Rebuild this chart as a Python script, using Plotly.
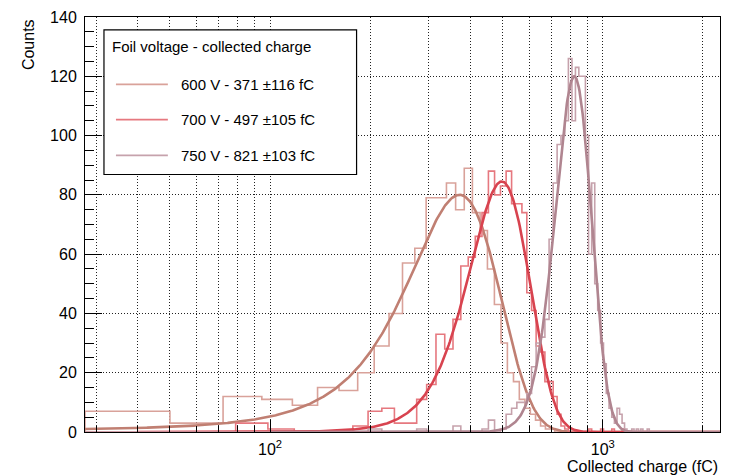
import numpy as np
import plotly.graph_objects as go

# ---------------- data ----------------
# histogram binning (fC): 600 V run and 700/750 V runs
bins_600 = (27.78, 2250.0, 100)
bins_700_750 = (19.7, 1989.7, 100)

counts_600 = [7, 3, 12, 11, 9, 15, 14, 20, 29, 40,
              57, 62, 79, 79, 84, 75, 89, 74, 68, 55,
              43, 30, 20, 17, 11, 8, 6, 4, 2, 1,
              1]
counts_700 = [0, 0, 0, 3, 1, 0, 0, 0, 2, 7,
              8, 3, 3, 11, 16, 33, 28, 38, 56, 59,
              66, 74, 88, 80, 83, 88, 77, 77, 74, 47,
              41, 29, 27, 17, 17, 12, 6, 2, 1, 0,
              0, 0, 0, 0, 0, 1, 0, 0, 0, 1,
              0, 0, 0, 1, 0, 0, 0, 1]
counts_750 = [0, 0, 0, 0, 0, 0, 0, 0, 0, 1,
              0, 0, 0, 1, 0, 0, 0, 2, 0, 0,
              0, 1, 4, 0, 1, 6, 8, 10, 10, 13,
              22, 30, 32, 38, 65, 84, 97, 100, 105, 126,
              105, 123, 120, 120, 100, 60, 84, 50, 41, 30,
              23, 13, 8, 5, 3, 8, 6, 3, 1, 0,
              0, 1, 0, 1, 0, 1, 0, 0, 1]

# Gaussian fit results
fit_labels = ["600 V - 371 ±116 fC", "700 V - 497 ±105 fC", "750 V - 821 ±103 fC"]
fit_amp = [80.0, 84.5, 120.0]
fit_mean = [371.0, 497.0, 821.0]
fit_sigma = [116.0, 105.0, 103.0]
fit_start = [27.78, 40.0, 100.0]
fit_stop = [2250.0, 2250.0, 2250.0]

legend_title = "Foil voltage - collected charge"
x_title = "Collected charge (fC)"
y_title = "Counts"
x_tick_vals = [100, 1000]
x_tick_text = ["10<sup>2</sup>", "10<sup>3</sup>"]
x_minor_vals = [30, 40, 50, 60, 70, 80, 90, 200, 300, 400, 500, 600, 700, 800, 900, 2000]

# ---------------- style ----------------
fit_colors = ["#c07f72", "#d8434f", "#b08590"]
hist_colors = ["#d9a29a", "#e6787f", "#c6a2ac"]
FONT = "Liberation Sans, Arial, Helvetica, sans-serif"

W, H = 730, 476
L, R, T, B = 85, 9, 13, 44
PW, PH = W - L - R, H - T - B


def px(xp):
    return (xp - L) / PW


def py(yp):
    return (H - B - yp) / PH


def step_xy(binning, counts):
    lo, hi, n = binning
    c = list(counts) + [0] * (n - len(counts))
    edges = np.linspace(lo, hi, n + 1)
    xs = [edges[0]] + list(edges[:-1]) + [edges[-1], edges[-1]]
    ys = [0] + c + [c[-1], 0]
    return xs, ys


fig = go.Figure()
hists = [(bins_600, counts_600), (bins_700_750, counts_700), (bins_700_750, counts_750)]
for i in range(3):
    xs, ys = step_xy(*hists[i])
    fig.add_trace(go.Scatter(x=xs, y=ys, mode="lines", line_shape="hv",
                             line=dict(color=hist_colors[i], width=1.6),
                             showlegend=False, hoverinfo="skip"))
    xf = np.logspace(np.log10(fit_start[i]), np.log10(fit_stop[i]), 600)
    yf = fit_amp[i] * np.exp(-0.5 * ((xf - fit_mean[i]) / fit_sigma[i]) ** 2)
    fig.add_trace(go.Scatter(x=xf, y=yf, mode="lines",
                             line=dict(color=fit_colors[i], width=2.6),
                             showlegend=False, hoverinfo="skip"))

grid = dict(gridcolor="#222", gridwidth=1, griddash="1px,2px")

fig.update_layout(
    width=W, height=H,
    margin=dict(l=L, r=R, t=T, b=B, pad=0),
    paper_bgcolor="white", plot_bgcolor="white",
    font=dict(family=FONT, size=16, color="black"),
    showlegend=False,
    xaxis=dict(type="log", range=[np.log10(bins_600[0]), np.log10(bins_600[1])],
               tickmode="array", tickvals=x_tick_vals, ticktext=x_tick_text,
               ticks="inside", ticklen=12, tickwidth=1, tickcolor="black",
               showline=True, linecolor="black", linewidth=1, mirror=True,
               showgrid=True, **grid, zeroline=False,
               ticklabelstandoff=3,
               tickfont=dict(family=FONT, size=16),
               minor=dict(tickmode="array", tickvals=x_minor_vals, ticks="inside",
                          ticklen=6, tickwidth=1, tickcolor="black",
                          showgrid=True, **grid)),
    yaxis=dict(range=[0, 140], tickmode="linear", tick0=0, dtick=20,
               ticks="inside", ticklen=17, tickwidth=1, tickcolor="black",
               showline=True, linecolor="black", linewidth=1, mirror=True,
               showgrid=True, **grid, zeroline=False,
               ticklabelstandoff=4,
               tickfont=dict(family=FONT, size=16),
               minor=dict(dtick=5, ticks="inside", ticklen=9, tickwidth=1,
                          tickcolor="black", showgrid=False)),
)

shapes = []
annotations = []
# legend box
shapes.append(dict(type="rect", xref="paper", yref="paper",
                   x0=px(104), x1=px(357), y0=py(172), y1=py(26),
                   line=dict(color="black", width=1.2), fillcolor="white", layer="above"))
annotations.append(dict(xref="paper", yref="paper", x=px(110), y=py(43),
                        xanchor="left", yanchor="middle", showarrow=False,
                        text=legend_title, font=dict(family=FONT, size=15, color="black")))
entry_y = [81, 116.7, 152.7]
for i in range(3):
    shapes.append(dict(type="line", xref="paper", yref="paper",
                       x0=px(116), x1=px(168), y0=py(entry_y[i]), y1=py(entry_y[i]),
                       line=dict(color=hist_colors[i], width=1.8), layer="above"))
    annotations.append(dict(xref="paper", yref="paper", x=px(179), y=py(entry_y[i]),
                            xanchor="left", yanchor="middle", showarrow=False,
                            text=fit_labels[i], font=dict(family=FONT, size=15, color="black")))
# axis titles
annotations.append(dict(xref="paper", yref="paper", x=px(721), y=py(467),
                        xanchor="right", yanchor="middle", showarrow=False,
                        text=x_title, font=dict(family=FONT, size=16, color="black")))
annotations.append(dict(xref="paper", yref="paper", x=px(28.5), y=py(13),
                        xanchor="center", yanchor="top", showarrow=False, textangle=-90,
                        text=y_title, font=dict(family=FONT, size=16, color="black")))
fig.update_layout(shapes=shapes, annotations=annotations)

fig.write_html("out.html")
